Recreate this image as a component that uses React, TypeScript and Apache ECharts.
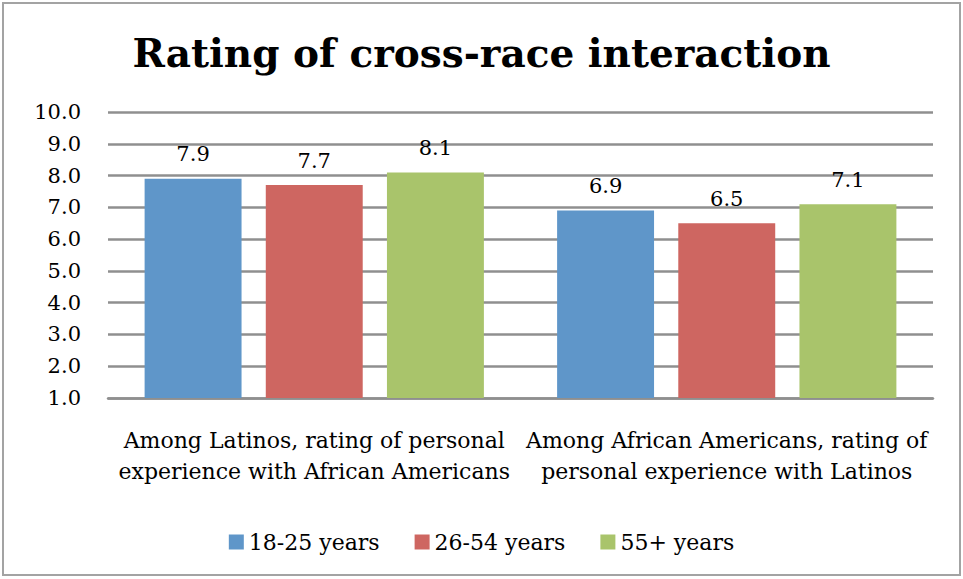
import React, { useEffect, useRef } from "react";
import * as echarts from "echarts";

const title = "Rating of cross-race interaction";
const categories = [
  "Among Latinos, rating of personal\nexperience with African Americans",
  "Among African Americans, rating of\npersonal experience with Latinos",
];
const seriesNames = ["18-25 years", "26-54 years", "55+ years"];
const youngValues = [7.9, 6.9];
const middleValues = [7.7, 6.5];
const olderValues = [8.1, 7.1];
const seriesColors = ["#5f96c9", "#ce6661", "#a9c46b"];

const FONT = "'DejaVu Serif', serif";

export default function App() {
  const ref = useRef<HTMLDivElement>(null);

  useEffect(() => {
    document.body.style.margin = "0";
    const chart = echarts.init(ref.current!, null, { renderer: "svg" });
    const valueSets = [youngValues, middleValues, olderValues];
    chart.setOption({
      animation: false,
      textStyle: { fontFamily: FONT },
      title: {
        text: title,
        left: "center",
        top: 28,
        textStyle: { fontFamily: FONT, fontWeight: "bold", fontSize: 39, color: "#000" },
      },
      graphic: [
        {
          type: "rect",
          shape: { x: 3, y: 3, width: 957, height: 572 },
          style: { fill: "none", stroke: "#a3a3a3", lineWidth: 2 },
        },
      ],
      legend: {
        bottom: 21,
        left: "center",
        itemWidth: 15,
        itemHeight: 15,
        itemGap: 35,
        icon: "rect",
        textStyle: { fontFamily: FONT, fontSize: 22, color: "#000" },
        data: seriesNames,
      },
      grid: { left: 108, right: 30, top: 112, bottom: 181, outerBoundsMode: "none" },
      xAxis: {
        type: "category",
        data: categories,
        axisLine: { lineStyle: { color: "#8f8f8f", width: 2.5 } },
        axisTick: { show: false },
        axisLabel: {
          fontFamily: FONT,
          fontSize: 22,
          color: "#000",
          margin: 27,
          lineHeight: 31,
          interval: 0,
        },
      },
      yAxis: {
        type: "value",
        min: 1,
        max: 10,
        interval: 1,
        axisLine: { show: false },
        axisTick: { show: false },
        splitLine: { lineStyle: { color: "#8f8f8f", width: 2.5 } },
        axisLabel: {
          fontFamily: FONT,
          fontSize: 21,
          color: "#000",
          margin: 27,
          formatter: (v: number) => v.toFixed(1),
        },
      },
      series: seriesNames.map((name, i) => ({
        name,
        type: "bar",
        data: valueSets[i],
        barWidth: "23.5%",
        barGap: "25%",
        itemStyle: { color: seriesColors[i] },
        label: {
          show: true,
          position: "top",
          distance: 14,
          fontFamily: FONT,
          fontSize: 21,
          color: "#000",
          formatter: (p: any) => Number(p.value).toFixed(1),
        },
      })),
    });
    return () => chart.dispose();
  }, []);

  return (
    <div
      ref={ref}
      style={{ position: "absolute", left: 0, top: 0, width: 963, height: 579, background: "#fff" }}
    />
  );
}
